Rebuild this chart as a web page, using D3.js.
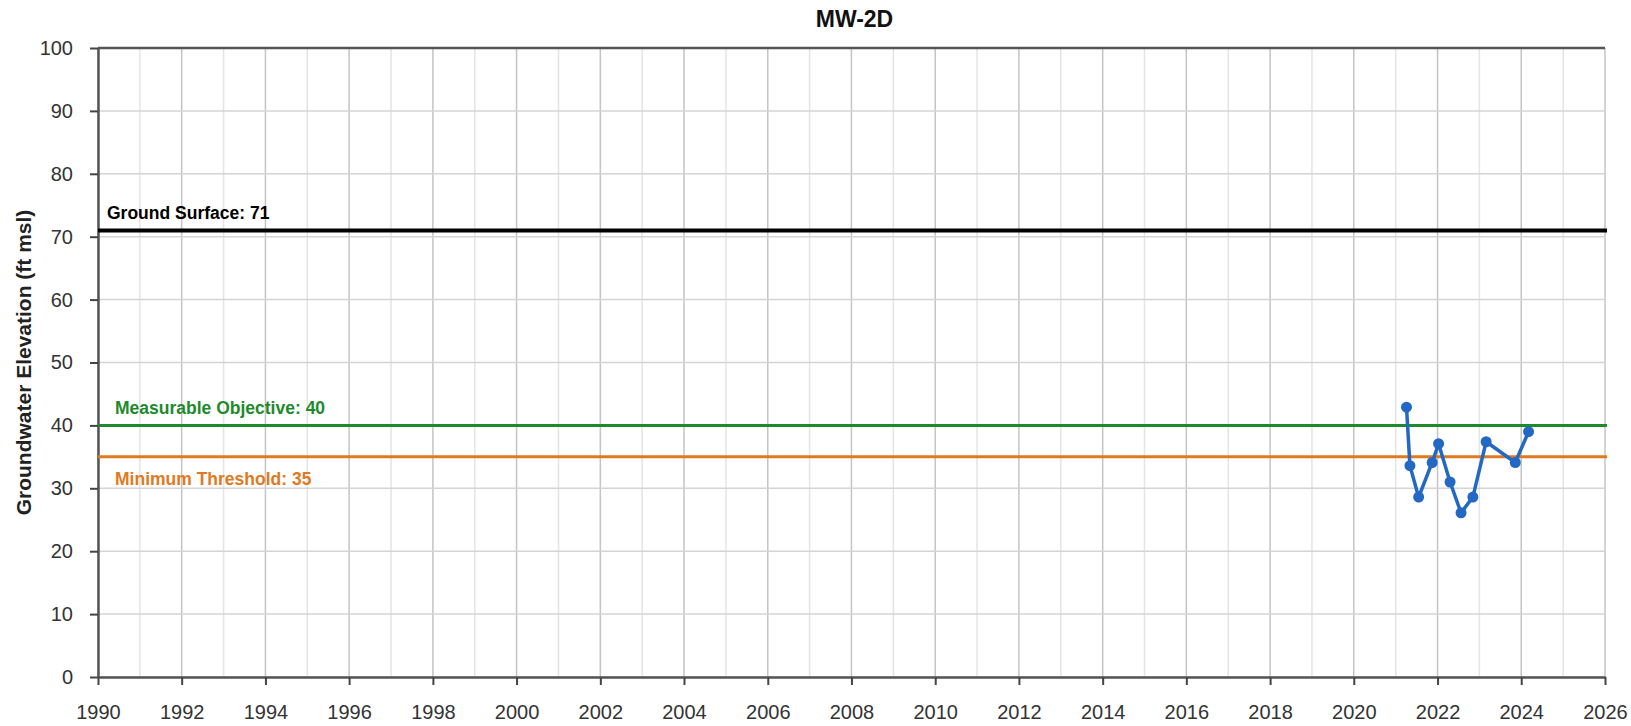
<!DOCTYPE html>
<html lang="en">
<head>
<meta charset="UTF-8">
<title>MW-2D</title>
<script src="https://d3js.org/d3.v7.min.js"></script>
<style>
body {
  margin: 0;
  background: white;
}
svg {
  display: block;
  font-family: "Liberation Sans", Arial, sans-serif;
}
</style>
</head>
<body>
<svg></svg>
<script>
// measured groundwater elevations (ft msl)
const dates = ["2021-04-05", "2021-05-05", "2021-07-20", "2021-11-15", "2022-01-10", "2022-04-20",
               "2022-07-25", "2022-11-05", "2023-03-01", "2023-11-10", "2024-03-05"];
const elevations = [42.9, 33.6, 28.6, 34.1, 37.1, 31.0, 26.1, 28.6, 37.4, 34.1, 39.0];

// threshold lines
const refNames = ["Ground Surface", "Measurable Objective", "Minimum Threshold"];
const refValues = [71, 40, 35];
const refColors = ["#000000", "#1e8a2c", "#e07a1f"];

const xTickYears = d3.range(1990, 2027, 2);
const xMinorYears = d3.range(1991, 2026, 2);
const yTicks = d3.range(0, 101, 10);

const width = 1631;
const height = 726;
const margin = {top: 48, right: 26, bottom: 49, left: 98};

let svg = d3.select("svg")
  .attr("width", width)
  .attr("height", height);

let x = d3.scaleTime()
  .domain([new Date(1990, 0, 1), new Date(2026, 0, 1)])
  .range([margin.left, width - margin.right]);
let y = d3.scaleLinear()
  .domain([0, 100])
  .range([height - margin.bottom, margin.top]);

let grid = svg.append("g");
// minor vertical grid (odd years)
grid.selectAll(".minor").data(xMinorYears).enter().append("line")
  .attr("x1", d => x(new Date(d, 0, 1)))
  .attr("x2", d => x(new Date(d, 0, 1)))
  .attr("y1", y(0))
  .attr("y2", y(100))
  .attr("stroke", "#e4e4e4")
  .attr("stroke-width", 1.5);
// major vertical grid
grid.selectAll(".major").data(xTickYears).enter().append("line")
  .attr("x1", d => x(new Date(d, 0, 1)))
  .attr("x2", d => x(new Date(d, 0, 1)))
  .attr("y1", y(0))
  .attr("y2", y(100))
  .attr("stroke", "#c4c4c4")
  .attr("stroke-width", 1.5);
// horizontal grid
grid.selectAll(".hgrid").data(yTicks).enter().append("line")
  .attr("x1", x.range()[0])
  .attr("x2", x.range()[1])
  .attr("y1", d => y(d))
  .attr("y2", d => y(d))
  .attr("stroke", "#d4d4d4")
  .attr("stroke-width", 1.5);

// top border
svg.append("line")
  .attr("x1", x.range()[0]).attr("x2", x.range()[1])
  .attr("y1", y(100)).attr("y2", y(100))
  .attr("stroke", "#555").attr("stroke-width", 2.5);

// axes
let bottom = svg.append("g")
  .attr("transform", "translate(0," + y(0) + ")")
  .call(d3.axisBottom(x)
    .tickValues(xTickYears.map(d => new Date(d, 0, 1)))
    .tickFormat(d3.timeFormat("%Y"))
    .tickSizeInner(8).tickSizeOuter(0).tickPadding(20));
let left = svg.append("g")
  .attr("transform", "translate(" + x.range()[0] + ",0)")
  .call(d3.axisLeft(y).tickValues(yTicks).tickSizeInner(8).tickSizeOuter(0).tickPadding(17));

[bottom, left].forEach(g => {
  g.select(".domain").attr("stroke", "#555").attr("stroke-width", 2.5);
  g.selectAll(".tick line").attr("stroke", "#444").attr("stroke-width", 2);
  g.selectAll(".tick text").attr("fill", "#333").style("font-size", "20px");
});

// reference lines and labels
const labelX = [107, 115, 115];
const labelDy = [-11, -11, 28];
refValues.forEach((v, i) => {
  svg.append("line")
    .attr("x1", x.range()[0]).attr("x2", x.range()[1] + 2)
    .attr("y1", y(v)).attr("y2", y(v))
    .attr("stroke", refColors[i])
    .attr("stroke-width", i == 0 ? 4 : 3);
  svg.append("text")
    .attr("x", labelX[i])
    .attr("y", y(v) + labelDy[i])
    .attr("fill", refColors[i])
    .style("font-size", "17.5px")
    .style("font-weight", "bold")
    .text(refNames[i] + ": " + v);
});

// data series
let parse = d3.timeParse("%Y-%m-%d");
let data = dates.map((d, i) => ({date: parse(d), value: elevations[i]}));
let series = svg.append("g");
series.append("path")
  .attr("d", d3.line()
    .x(d => x(d.date))
    .y(d => y(d.value))(data))
  .attr("stroke", "#2369c4")
  .attr("stroke-width", 3.5)
  .attr("fill", "none");
series.selectAll("circle").data(data).enter().append("circle")
  .attr("cx", d => x(d.date))
  .attr("cy", d => y(d.value))
  .attr("r", 5.5)
  .attr("fill", "#2369c4");

// title
svg.append("text")
  .attr("x", (x.range()[0] + x.range()[1]) / 2 + 3)
  .attr("y", 27)
  .attr("text-anchor", "middle")
  .style("font-size", "23px")
  .style("font-weight", "bold")
  .attr("fill", "#111")
  .text("MW-2D");

// y axis title
svg.append("text")
  .attr("transform", "translate(31," + (y(0) + y(100)) / 2 + ") rotate(-90)")
  .attr("text-anchor", "middle")
  .style("font-size", "21px")
  .style("font-weight", "bold")
  .attr("fill", "#222")
  .text("Groundwater Elevation (ft msl)");
</script>
</body>
</html>
